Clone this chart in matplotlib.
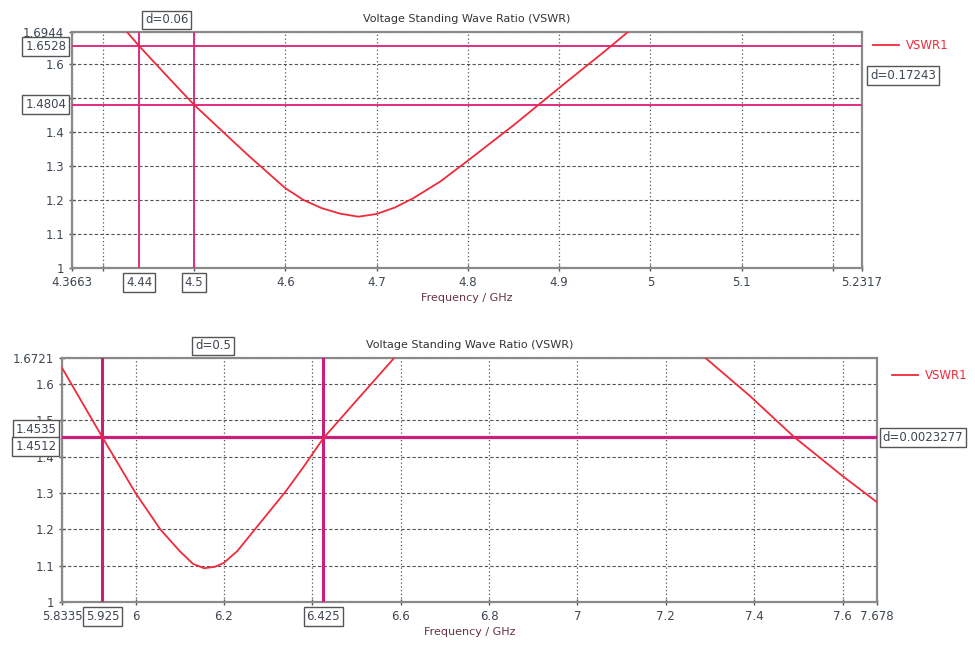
import numpy as np
import matplotlib
matplotlib.use("Agg")
import matplotlib.pyplot as plt

# --- data ---
top_freq = [4.42, 4.44, 4.47, 4.50, 4.53, 4.56, 4.60, 4.62, 4.64, 4.66, 4.68,
            4.70, 4.72, 4.74, 4.77, 4.80, 4.85, 4.90, 4.95, 4.98]
top_vswr = [1.715, 1.6528, 1.566, 1.4804, 1.405, 1.330, 1.235, 1.200, 1.176, 1.160, 1.151,
            1.159, 1.178, 1.205, 1.255, 1.316, 1.420, 1.530, 1.638, 1.705]

bot_freq = [5.8335, 5.925, 6.00, 6.056, 6.10, 6.13, 6.155, 6.18, 6.20, 6.23, 6.26,
            6.30, 6.34, 6.38, 6.425, 6.50, 6.585, 6.62, 6.9, 7.25, 7.29, 7.39, 7.49, 7.60, 7.678]
bot_vswr = [1.645, 1.4535, 1.300, 1.200, 1.140, 1.105, 1.093, 1.097, 1.108, 1.140, 1.185,
            1.245, 1.305, 1.372, 1.4512, 1.555, 1.672, 1.72, 1.95, 1.72, 1.672, 1.568, 1.455, 1.347, 1.275]

top_xlim = (4.3663, 5.2317)
top_ylim = (1.0, 1.6944)
top_xticks = [4.3663, 4.4, 4.5, 4.6, 4.7, 4.8, 4.9, 5.0, 5.1, 5.2, 5.2317]
top_xlabels = ["4.3663", "", "", "4.6", "4.7", "4.8", "4.9", "5", "5.1", "", "5.2317"]
top_yticks = [1.0, 1.1, 1.2, 1.3, 1.4, 1.5, 1.6, 1.6944]
top_ylabels = ["1", "1.1", "1.2", "1.3", "1.4", "", "1.6", "1.6944"]
top_vmarks = [4.44, 4.5]
top_hmarks = [1.6528, 1.4804]

bot_xlim = (5.8335, 7.678)
bot_ylim = (1.0, 1.6721)
bot_xticks = [5.8335, 6.0, 6.2, 6.4, 6.6, 6.8, 7.0, 7.2, 7.4, 7.6, 7.678]
bot_xlabels = ["5.8335", "6", "6.2", "", "6.6", "6.8", "7", "7.2", "7.4", "7.6", "7.678"]
bot_yticks = [1.0, 1.1, 1.2, 1.3, 1.4, 1.5, 1.6, 1.6721]
bot_ylabels = ["1", "1.1", "1.2", "1.3", "1.4", "1.5", "1.6", "1.6721"]
bot_vmarks = [5.925, 6.425]
bot_hmarks = [1.4535, 1.4512]

CURVE = "#f02a3a"
MARK = "#e02c80"
TXT = "#3e4652"
BOX = dict(boxstyle="square,pad=0.25", fc="white", ec="#555555", lw=1.0)

plt.rcParams["font.family"] = "DejaVu Sans"

fig = plt.figure(figsize=(9.75, 6.48), dpi=100)
ax1 = fig.add_axes([0.0738, 0.5864, 0.8103, 0.3642])
ax2 = fig.add_axes([0.0636, 0.0710, 0.8359, 0.3765])


def style_axes(ax, xlim, ylim, xt, xl, yt, yl):
    ax.set_xlim(*xlim)
    ax.set_ylim(*ylim)
    ax.set_xticks(xt)
    ax.set_xticklabels(xl)
    ax.set_yticks(yt)
    ax.set_yticklabels(yl)
    ax.tick_params(labelsize=8.5, colors="#555555", labelcolor=TXT,
                   direction="inout", length=4, width=1)
    for s in ax.spines.values():
        s.set_color("#8a8a8a")
        s.set_linewidth(1.6)
    ax.grid(axis="x", color="#555555", ls=(0, (1, 2)), lw=0.9)
    ax.grid(axis="y", color="#555555", ls=(0, (3, 2)), lw=0.8)
    ax.set_title("Voltage Standing Wave Ratio (VSWR)", fontsize=8, color="#333333", pad=7)
    ax.set_xlabel("Frequency / GHz", fontsize=8, color="#663344", labelpad=3)


def box_x(ax, x):
    ax.annotate(f"{x:g}", xy=(x, 0), xycoords=ax.get_xaxis_transform(),
                xytext=(0, -6), textcoords="offset points", ha="center", va="top",
                fontsize=8.5, color=TXT, bbox=BOX, zorder=10, annotation_clip=False)


def box_y(ax, y, va="center", dy=0):
    ax.annotate(f"{y:g}", xy=(0, y), xycoords=ax.get_yaxis_transform(),
                xytext=(-4, dy), textcoords="offset points", ha="right", va=va,
                fontsize=8.5, color=TXT, bbox=BOX, zorder=10, annotation_clip=False)


# --- top chart ---
style_axes(ax1, top_xlim, top_ylim, top_xticks, top_xlabels, top_yticks, top_ylabels)
ax1.plot(top_freq, top_vswr, color=CURVE, lw=1.3, label="VSWR1", zorder=4)
for x in top_vmarks:
    ax1.axvline(x, color=MARK, lw=1.4, zorder=3)
    box_x(ax1, x)
for y in top_hmarks:
    ax1.axhline(y, color=MARK, lw=1.4, zorder=3)
    box_y(ax1, y)
ax1.annotate(f"d={top_vmarks[1] - top_vmarks[0]:.2f}", xy=(np.mean(top_vmarks), 1),
             xycoords=ax1.get_xaxis_transform(), xytext=(0, 4), textcoords="offset points",
             ha="center", va="bottom", fontsize=8.5, color=TXT, bbox=BOX,
             annotation_clip=False)
ax1.annotate("d=0.17243", xy=(1, np.mean(top_hmarks)), xycoords=ax1.get_yaxis_transform(),
             xytext=(6, 0), textcoords="offset points", ha="left", va="center",
             fontsize=8.5, color=TXT, bbox=BOX, annotation_clip=False)
ax1.legend(loc="upper left", bbox_to_anchor=(1.0, 1.015), frameon=False, fontsize=8.5,
           labelcolor=CURVE, handlelength=2.2, handletextpad=0.6)

# --- bottom chart ---
style_axes(ax2, bot_xlim, bot_ylim, bot_xticks, bot_xlabels, bot_yticks, bot_ylabels)
ax2.plot(bot_freq, bot_vswr, color=CURVE, lw=1.3, label="VSWR1", zorder=4)
for x in bot_vmarks:
    ax2.axvline(x, color="#c8207a", lw=2.2, zorder=3)
    box_x(ax2, x)
for y in bot_hmarks:
    ax2.axhline(y, color="#c8207a", lw=1.6, zorder=3)
box_y(ax2, bot_hmarks[0], va="bottom", dy=1)
box_y(ax2, bot_hmarks[1], va="top", dy=-1)
ax2.annotate(f"d={bot_vmarks[1] - bot_vmarks[0]:g}", xy=(np.mean(bot_vmarks), 1),
             xycoords=ax2.get_xaxis_transform(), xytext=(0, 4), textcoords="offset points",
             ha="center", va="bottom", fontsize=8.5, color=TXT, bbox=BOX,
             annotation_clip=False)
ax2.annotate("d=0.0023277", xy=(1, np.mean(bot_hmarks)), xycoords=ax2.get_yaxis_transform(),
             xytext=(4, 0), textcoords="offset points", ha="left", va="center",
             fontsize=8.5, color=TXT, bbox=BOX, annotation_clip=False)
ax2.legend(loc="upper left", bbox_to_anchor=(1.005, 1.0), frameon=False, fontsize=8.5,
           labelcolor=CURVE, handlelength=2.2, handletextpad=0.6)

fig.savefig("out.png", dpi=100)
